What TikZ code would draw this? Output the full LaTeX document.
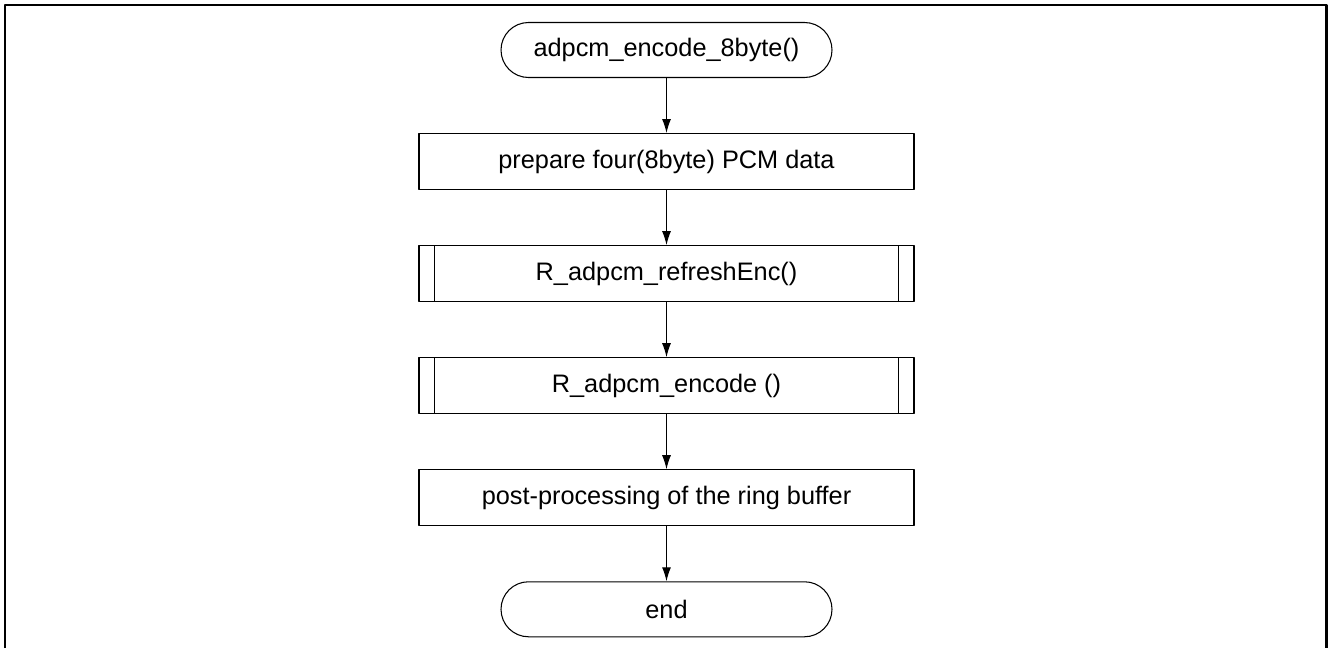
\documentclass[tikz,border=0pt]{standalone}
\usepackage{fontspec}
\setmainfont{Liberation Sans}
\usepackage{tikz}
\usetikzlibrary{arrows.meta,positioning}
\tikzset{
  fc diagram/.style={font=\fontsize{14.4}{17}\selectfont,
    line join=round},
  fc box/.style={draw, line width=0.6pt, minimum width=9.9cm,
    minimum height=1.12cm, inner sep=0pt, align=center},
  fc terminal/.style={draw, line width=0.6pt, rounded corners=0.55cm,
    minimum width=6.62cm, minimum height=1.1cm, inner sep=0pt},
  fc arrow/.style={-{Latex[length=2.8mm,width=1.8mm]}, line width=0.6pt},
  fc frame/.style={line width=1.7pt}
}
\begin{document}
\begin{tikzpicture}[fc diagram, node distance=1.1cm]
\useasboundingbox (0,0) rectangle (26.56,-12.96);
\draw[fc frame] (0.1,-12.96) -- (0.1,-0.1) -- (26.52,-0.1) -- (26.52,-12.96);
\node[fc terminal] (start) at (13.33,-1.0) {adpcm\_encode\_8byte()};
\node[fc box, below=of start] (prep) {prepare four(8byte) PCM data};
\node[fc box, below=of prep] (refresh) {R\_adpcm\_refreshEnc()};
\node[fc box, below=of refresh] (encode) {R\_adpcm\_encode ()};
\node[fc box, below=of encode] (post) {post-processing of the ring buffer};
\node[fc terminal, below=of post] (end) {end};
% side bars of the sub-process boxes
\foreach \n in {refresh,encode}{
  \draw[line width=0.6pt] ([xshift=0.32cm]\n.north west) -- ([xshift=0.32cm]\n.south west);
  \draw[line width=0.6pt] ([xshift=-0.32cm]\n.north east) -- ([xshift=-0.32cm]\n.south east);
}
\draw[fc arrow] (start) -- (prep);
\draw[fc arrow] (prep) -- (refresh);
\draw[fc arrow] (refresh) -- (encode);
\draw[fc arrow] (encode) -- (post);
\draw[fc arrow] (post) -- (end);
\end{tikzpicture}
\end{document}
